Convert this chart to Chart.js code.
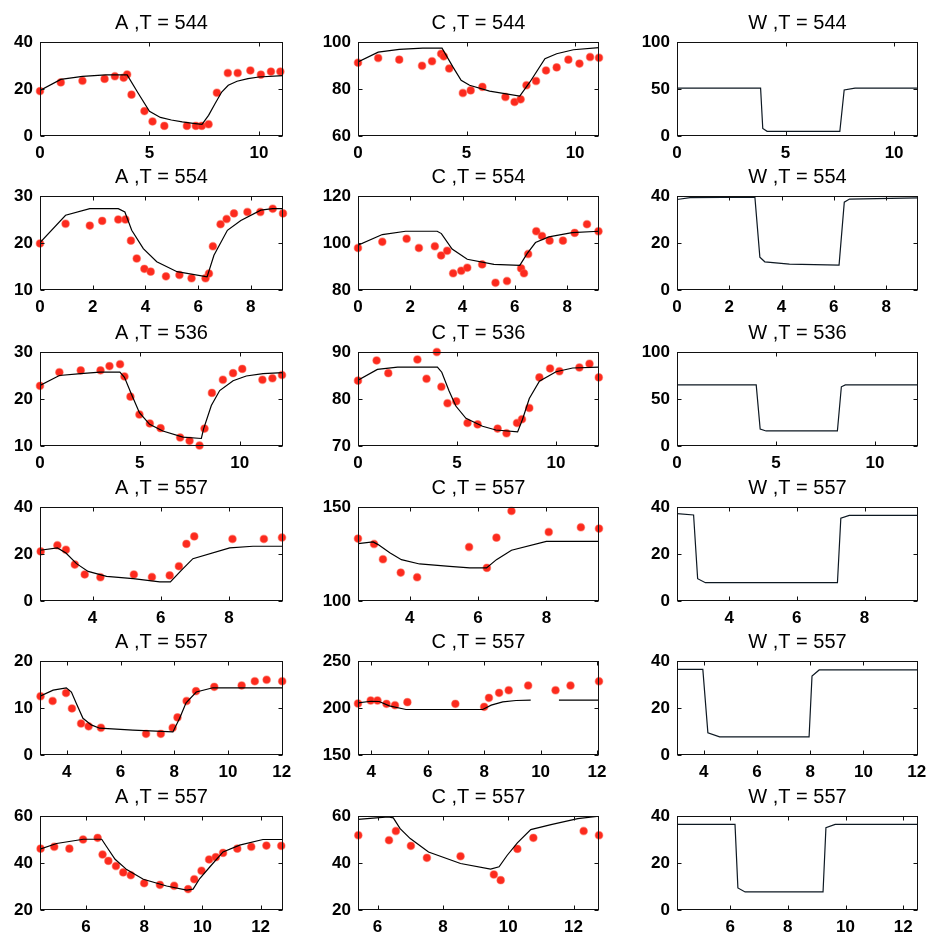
<!DOCTYPE html>
<html><head><meta charset="utf-8">
<script src="https://cdn.jsdelivr.net/npm/chart.js@4.4.1/dist/chart.umd.min.js"></script>
<style>
html,body{margin:0;padding:0;background:#fff;width:928px;height:936px;overflow:hidden;}
canvas{position:absolute;}
</style></head><body>
<script>
// ---------- Titles ----------
const titlesA = ["A ,T = 544","A ,T = 554","A ,T = 536","A ,T = 557","A ,T = 557","A ,T = 557"];
const titlesC = ["C ,T = 544","C ,T = 554","C ,T = 536","C ,T = 557","C ,T = 557","C ,T = 557"];
const titlesW = ["W ,T = 544","W ,T = 554","W ,T = 536","W ,T = 557","W ,T = 557","W ,T = 557"];

// ---------- Row 1 (T = 544) ----------
const xRange1 = [0, 11.1];
const xTicks1 = [0, 5, 10];
const yTicksA1 = [0, 20, 40], yTicksC1 = [60, 80, 100], yTicksW1 = [0, 50, 100];
const obsXA1 = [0,0.95,1.94,2.95,3.42,3.82,3.98,4.18,4.77,5.14,5.68,6.71,7.12,7.39,7.70,8.08,8.58,9.03,9.61,10.09,10.55,10.98];
const obsYA1 = [19.1,22.8,23.5,24.3,25.4,24.8,26.2,17.6,10.6,6.2,4.3,4.3,4.3,4.3,5.0,18.4,26.8,26.8,27.9,26.1,27.4,27.4];
const fitXA1 = [0,0.95,1.94,3.0,3.98,4.5,5.0,5.5,6.0,6.5,7.0,7.4,7.7,8.0,8.3,8.6,9.0,9.5,10.0,11.1];
const fitYA1 = [19.4,24.1,25.4,26.0,26.0,18.0,10.5,7.9,6.8,6.0,5.4,5.0,8.8,13.8,18.7,21.6,23.3,24.4,25.1,25.7];
const obsXC1 = [0,0.93,1.9,2.95,3.41,3.83,3.95,4.2,4.83,5.19,5.73,6.79,7.21,7.49,7.76,8.2,8.66,9.15,9.69,10.2,10.69,11.1];
const obsYC1 = [91.2,93.2,92.5,89.9,91.8,95.0,93.9,88.7,78.3,79.4,80.9,76.6,74.5,75.6,81.6,83.4,87.9,89.2,92.5,90.8,93.6,93.3];
const fitXC1 = [0,0.93,1.9,2.98,3.87,4.37,4.75,5.14,6.06,7.45,7.92,8.61,9.15,9.92,11.1];
const fitYC1 = [91.5,95.7,96.9,97.4,97.4,89.4,83.7,81.6,79.1,77.0,83.0,92.9,95.0,96.7,97.6];
const fitXW1 = [0,3.85,3.95,4.15,7.5,7.7,8.2,11.1];
const fitYW1 = [51,51,8,5,5,49,51,51];

// ---------- Row 2 (T = 554) ----------
const xRange2 = [0, 9.22];
const xTicks2 = [0, 2, 4, 6, 8];
const yTicksA2 = [10, 20, 30], yTicksC2 = [80, 100, 120], yTicksW2 = [0, 20, 40];
const obsXA2 = [0,0.97,1.89,2.36,2.97,3.24,3.45,3.67,3.96,4.2,4.78,5.29,5.75,6.28,6.41,6.56,6.85,7.08,7.36,7.87,8.36,8.83,9.22];
const obsYA2 = [19.9,24.1,23.7,24.7,25.0,25.0,20.5,16.7,14.5,13.9,12.9,13.2,12.5,12.5,13.5,19.3,24.0,25.1,26.3,26.6,26.6,27.3,26.3];
const fitXA2 = [0,0.97,1.89,2.97,3.22,3.48,3.92,4.43,5.2,6.34,6.6,7.11,7.62,8.38,8.83,9.22];
const fitYA2 = [20.1,25.9,27.3,27.3,26.6,22.7,18.8,16.0,13.9,12.8,17.4,22.7,24.8,27.0,27.3,27.3];
const obsXC2 = [0,0.93,1.86,2.33,2.94,3.18,3.41,3.64,3.95,4.18,4.75,5.26,5.7,6.24,6.35,6.51,6.82,7.04,7.33,7.84,8.29,8.76,9.2];
const obsYC2 = [97.9,100.5,101.8,97.9,98.6,94.7,96.7,87.1,88.2,89.5,90.9,83.1,83.8,89.2,87.1,95.3,105.0,103.0,101.0,101.0,104.3,108.0,105.0];
const fitXC2 = [0,0.93,1.82,3.03,3.19,3.6,4.18,5.2,6.19,6.47,6.79,7.3,8.19,9.22];
const fitYC2 = [99.1,103.6,105.0,105.0,104.0,97.4,93.1,90.9,90.5,95.5,100.2,102.6,104.4,105.0];
const fitXW2 = [0,0.5,2.98,3.17,3.36,4.3,6.2,6.4,6.6,9.22];
const fitYW2 = [38.5,39.3,39.5,14,12,11,10.6,37.4,38.7,39.2];

// ---------- Row 3 (T = 536) ----------
const xRange3 = [0, 12.17];
const xTicks3 = [0, 5, 10];
const yTicksA3 = [10, 20, 30], yTicksC3 = [70, 80, 90], yTicksW3 = [0, 50, 100];
const obsXA3 = [0,0.97,2.04,3.03,3.48,4.01,4.23,4.53,4.98,5.5,6.04,7.02,7.49,7.99,8.24,8.61,9.16,9.67,10.13,11.14,11.64,12.12];
const obsYA3 = [22.8,25.7,26.1,26.1,27.0,27.4,24.8,20.5,16.7,14.8,13.8,11.8,11.1,10.1,13.7,21.3,24.1,25.5,26.4,24.1,24.4,25.1];
const fitXA3 = [0,0.97,2.04,3.0,4.0,4.23,4.57,4.98,5.49,6.15,7.16,8.08,8.19,8.58,9.0,9.67,10.33,11.17,12.17];
const fitYA3 = [22.9,25.0,25.4,25.7,25.7,24.6,21.1,17.1,14.6,13.2,11.9,11.6,13.6,18.6,21.8,23.9,24.9,25.4,25.6];
const obsXC3 = [0,0.94,1.53,3.0,3.46,3.98,4.21,4.52,4.96,5.53,6.04,7.05,7.5,8.03,8.28,8.65,9.16,9.7,10.17,11.18,11.69,12.16];
const obsYC3 = [83.9,88.2,85.5,88.4,84.3,90.0,82.6,79.1,79.5,74.9,74.6,73.7,72.7,74.9,75.7,78.1,84.6,86.5,85.9,86.7,87.5,84.6];
const fitXC3 = [0,0.98,2.0,4.01,4.23,4.6,4.94,5.45,6.29,6.96,8.06,8.31,8.65,9.16,10.0,10.84,12.17];
const fitYC3 = [84.0,86.3,86.8,86.8,85.7,81.7,78.5,75.9,74.2,73.4,73.0,75.7,80.1,83.8,85.8,86.6,86.8];
const fitXW3 = [0,4.0,4.2,4.5,8.1,8.3,8.5,12.17];
const fitYW3 = [65,65,18,16,16,63,65,65];

// ---------- Row 4 (T = 557) ----------
const xRange4 = [2.46, 9.58], xRangeC4 = [2.49, 9.54];
const xTicks4 = [4, 6, 8];
const yTicksA4 = [0, 20, 40], yTicksC4 = [100, 150], yTicksW4 = [0, 20, 40];
const obsXA4 = [2.48,2.97,3.22,3.48,3.77,4.23,5.21,5.74,6.26,6.53,6.75,6.98,8.1,9.02,9.55];
const obsYA4 = [21.1,23.7,21.8,15.5,11.3,10.1,11.3,10.2,10.9,14.8,24.3,27.5,26.4,26.4,27.0];
const fitXA4 = [2.46,2.97,3.22,3.53,3.87,4.41,5.19,5.97,6.28,6.6,6.94,8.02,8.7,9.58];
const fitYA4 = [21.6,22.6,20.4,15.9,12.6,10.5,9.5,8.1,8.1,13.0,18.0,22.6,23.3,23.3];
const obsXC4 = [2.49,2.96,3.22,3.74,4.22,5.74,6.26,6.54,6.98,8.07,9.01,9.54];
const obsYC4 = [133.2,130.3,122.2,115.1,112.6,128.7,117.6,133.7,147.9,136.7,139.2,138.5];
const fitXC4 = [2.49,2.93,3.08,3.42,3.76,4.29,5.17,5.76,6.25,6.54,6.98,8.0,9.54];
const fitYC4 = [130.5,131.4,130.0,125.7,122.0,119.7,118.4,117.6,117.6,122.0,127.0,131.7,131.7];
const fitXW4 = [2.46,2.95,3.07,3.3,7.2,7.3,7.55,9.58];
const fitYW4 = [37.2,36.6,9.5,7.8,7.8,35.2,36.4,36.4];

// ---------- Row 5 (T = 557) ----------
const xRange5 = [3.0, 12.05], xRangeC5 = [3.53, 12.07];
const xTicks5 = [4, 6, 8, 10, 12];
const yTicksA5 = [0, 10, 20], yTicksC5 = [150, 200, 250], yTicksW5 = [0, 20, 40];
const obsXA5 = [3.02,3.47,3.97,4.19,4.53,4.81,5.27,6.95,7.5,7.94,8.12,8.46,8.81,9.49,10.51,11.0,11.44,12.02];
const obsYA5 = [12.5,11.5,13.2,9.9,6.7,6.1,5.8,4.5,4.5,5.8,8.0,11.5,13.6,14.5,14.8,15.7,16.0,15.7];
const fitXA5 = [3.0,3.49,3.98,4.17,4.35,4.6,4.91,5.22,6.46,7.95,8.2,8.44,8.82,9.44,12.05];
const fitYA5 = [12.5,13.8,14.3,13.4,11.0,7.8,6.4,5.7,5.3,4.9,7.8,11.1,13.4,14.3,14.3];
const obsXC5 = [3.53,3.98,4.22,4.54,4.84,5.28,6.98,8.0,8.17,8.53,8.87,9.56,10.53,11.06,12.07];
const obsYC5 = [204.8,208,208,204.4,203,206.2,204.4,201.2,210.8,216.1,218.9,223.9,218.9,223.9,228.4];
const fitXC5 = [3.53,3.99,4.28,4.64,5.23,7.95,8.25,8.66,9.13,9.65,10.1,10.65,12.07];
const fitYC5 = [205.5,207.2,206.9,202.3,198.4,198.4,203.0,206.5,208.0,208.3,null,208.3,208.3];
const fitXW5 = [3.0,3.97,4.16,4.6,7.96,8.07,8.34,12.05];
const fitYW5 = [36.4,36.4,9.4,7.7,7.7,33.6,36.2,36.2];

// ---------- Row 6 (T = 557) ----------
const xRange6 = [4.42, 12.77], xRangeC6 = [5.4, 12.78], xRangeW6 = [4.16, 12.51];
const xTicks6 = [6, 8, 10, 12];
const yTicksA6 = [20, 40, 60], yTicksC6 = [20, 40, 60], yTicksW6 = [0, 20, 40];
const obsXA6 = [4.44,4.91,5.43,5.9,6.4,6.57,6.77,7.03,7.28,7.54,8.0,8.54,9.03,9.51,9.72,9.97,10.23,10.46,10.71,11.2,11.68,12.2,12.71];
const obsYA6 = [46.1,46.9,46.1,50.0,50.7,43.6,40.9,38.7,36.0,34.8,31.4,30.7,30.3,28.9,33.1,36.7,41.5,42.5,44.3,46.1,46.9,47.4,47.3];
const fitXA6 = [4.42,4.99,5.91,6.54,6.71,7.0,7.4,7.97,8.77,9.46,9.68,9.91,10.26,10.71,11.28,12.08,12.77];
const fitYA6 = [45.9,48.3,50.1,50.1,46.9,41.6,37.2,33.1,30.2,28.5,28.9,33.4,38.4,44.7,47.6,50.0,50.0];
const obsXC6 = [5.41,6.35,6.56,7.02,7.51,8.54,9.56,9.77,10.28,10.77,12.31,12.78];
const obsYC6 = [51.8,49.7,53.6,47.3,42.2,42.9,35.1,32.7,46.0,50.7,53.6,51.8];
const fitXC6 = [5.4,6.33,6.48,6.69,7.0,7.56,8.54,9.46,9.72,9.97,10.28,10.69,11.31,12.13,12.78];
const fitYC6 = [58.6,59.6,59.2,54.6,50.4,44.7,39.8,37.4,38.4,43.3,48.6,54.2,56.3,58.9,59.9];
const fitXW6 = [4.16,6.17,6.27,6.52,9.22,9.32,9.64,12.51];
const fitYW6 = [36.4,36.4,9.4,7.7,7.7,35,36.4,36.4];

// ---------- Panel table (built from the arrays above) ----------
const panels = [
  {r:0,c:0,t:titlesA[0],xr:xRange1,xt:xTicks1,yt:yTicksA1,obs:[obsXA1,obsYA1],fit:[fitXA1,fitYA1]},
  {r:0,c:1,t:titlesC[0],xr:xRange1,xt:xTicks1,yt:yTicksC1,obs:[obsXC1,obsYC1],fit:[fitXC1,fitYC1]},
  {r:0,c:2,t:titlesW[0],xr:xRange1,xt:xTicks1,yt:yTicksW1,obs:null,fit:[fitXW1,fitYW1]},
  {r:1,c:0,t:titlesA[1],xr:xRange2,xt:xTicks2,yt:yTicksA2,obs:[obsXA2,obsYA2],fit:[fitXA2,fitYA2]},
  {r:1,c:1,t:titlesC[1],xr:xRange2,xt:xTicks2,yt:yTicksC2,obs:[obsXC2,obsYC2],fit:[fitXC2,fitYC2]},
  {r:1,c:2,t:titlesW[1],xr:xRange2,xt:xTicks2,yt:yTicksW2,obs:null,fit:[fitXW2,fitYW2]},
  {r:2,c:0,t:titlesA[2],xr:xRange3,xt:xTicks3,yt:yTicksA3,obs:[obsXA3,obsYA3],fit:[fitXA3,fitYA3]},
  {r:2,c:1,t:titlesC[2],xr:xRange3,xt:xTicks3,yt:yTicksC3,obs:[obsXC3,obsYC3],fit:[fitXC3,fitYC3]},
  {r:2,c:2,t:titlesW[2],xr:xRange3,xt:xTicks3,yt:yTicksW3,obs:null,fit:[fitXW3,fitYW3]},
  {r:3,c:0,t:titlesA[3],xr:xRange4,xt:xTicks4,yt:yTicksA4,obs:[obsXA4,obsYA4],fit:[fitXA4,fitYA4]},
  {r:3,c:1,t:titlesC[3],xr:xRangeC4,xt:xTicks4,yt:yTicksC4,obs:[obsXC4,obsYC4],fit:[fitXC4,fitYC4]},
  {r:3,c:2,t:titlesW[3],xr:xRange4,xt:xTicks4,yt:yTicksW4,obs:null,fit:[fitXW4,fitYW4]},
  {r:4,c:0,t:titlesA[4],xr:xRange5,xt:xTicks5,yt:yTicksA5,obs:[obsXA5,obsYA5],fit:[fitXA5,fitYA5]},
  {r:4,c:1,t:titlesC[4],xr:xRangeC5,xt:xTicks5,yt:yTicksC5,obs:[obsXC5,obsYC5],fit:[fitXC5,fitYC5]},
  {r:4,c:2,t:titlesW[4],xr:xRange5,xt:xTicks5,yt:yTicksW5,obs:null,fit:[fitXW5,fitYW5]},
  {r:5,c:0,t:titlesA[5],xr:xRange6,xt:xTicks6,yt:yTicksA6,obs:[obsXA6,obsYA6],fit:[fitXA6,fitYA6]},
  {r:5,c:1,t:titlesC[5],xr:xRangeC6,xt:xTicks6,yt:yTicksC6,obs:[obsXC6,obsYC6],fit:[fitXC6,fitYC6]},
  {r:5,c:2,t:titlesW[5],xr:xRangeW6,xt:xTicks6,yt:yTicksW6,obs:null,fit:[fitXW6,fitYW6]}
];

// ---------- Layout ----------
const FONT = "'Liberation Sans', Arial, Helvetica, sans-serif";
const colLeft = [40, 358, 677], colWidth = [243, 241, 241];
const rowTop = [42, 196, 352, 507, 661, 816], PLOT_H = 94;
const Y_AXIS_W = 40, TITLE_H = 40, X_AXIS_H = 22, PAD_R = 10;

const boxPlugin = {
  id: 'matlabBox',
  afterDraw(chart) {
    const {ctx, chartArea: a, scales: {x, y}} = chart;
    ctx.save();
    ctx.strokeStyle = '#111';
    ctx.lineWidth = 1;
    const L = Math.round(a.left) + 0.5, T = Math.round(a.top) + 0.5;
    const R = Math.round(a.right) - 0.5, B = Math.round(a.bottom) - 0.5;
    ctx.strokeRect(L, T, R - L, B - T);
    const len = 4;
    ctx.beginPath();
    x.ticks.forEach(t => {
      const px = Math.round(x.getPixelForValue(t.value)) + 0.5;
      ctx.moveTo(px, T); ctx.lineTo(px, T + len);
      ctx.moveTo(px, B); ctx.lineTo(px, B - len);
    });
    y.ticks.forEach(t => {
      const py = Math.round(y.getPixelForValue(t.value)) + 0.5;
      ctx.moveTo(L, py); ctx.lineTo(L + len, py);
      ctx.moveTo(R, py); ctx.lineTo(R - len, py);
    });
    ctx.stroke();
    ctx.restore();
  }
};

const pts = (xs, ys) => xs.map((x, i) => ({x: x, y: ys[i]}));
const tickFont = {family: FONT, size: 17, weight: 'bold'};

panels.forEach(p => {
  const cv = document.createElement('canvas');
  const w = Y_AXIS_W + colWidth[p.c] + PAD_R;
  const h = TITLE_H + PLOT_H + X_AXIS_H;
  cv.width = w; cv.height = h;
  cv.style.width = w + 'px'; cv.style.height = h + 'px';
  cv.style.left = (colLeft[p.c] - Y_AXIS_W) + 'px';
  cv.style.top = (rowTop[p.r] - TITLE_H) + 'px';
  document.body.appendChild(cv);

  const datasets = [{
    data: pts(p.fit[0], p.fit[1]),
    showLine: true, pointRadius: 0, pointHoverRadius: 0,
    borderColor: p.c === 2 ? '#0d1822' : '#000', borderWidth: 1.2,
    tension: 0, spanGaps: false, order: 0
  }];
  if (p.obs) {
    datasets.push({
      data: pts(p.obs[0], p.obs[1]),
      showLine: false, pointRadius: 3.8, pointHoverRadius: 3.8,
      backgroundColor: 'rgb(252,42,30)', borderColor: 'rgba(255,95,75,0.45)', borderWidth: 1.3,
      clip: false, order: 1
    });
  }

  new Chart(cv, {
    type: 'scatter',
    data: {datasets},
    options: {
      responsive: false, animation: false, devicePixelRatio: 1,
      layout: {padding: {top: 0, left: 0, right: PAD_R, bottom: 0}},
      plugins: {
        legend: {display: false}, tooltip: {enabled: false},
        title: {display: true, fullSize: false, text: p.t, color: '#000',
          font: {family: FONT, size: 20, weight: 'normal', lineHeight: 1.2},
          padding: {top: 9, bottom: 7}}
      },
      scales: {
        x: {
          type: 'linear', min: p.xr[0], max: p.xr[1],
          afterBuildTicks: s => { s.ticks = p.xt.map(v => ({value: v})); },
          afterFit: s => { s.height = X_AXIS_H; s.paddingLeft = 0; s.paddingRight = 0; },
          grid: {display: false, drawTicks: false}, border: {display: false},
          ticks: {padding: 7, maxRotation: 0, autoSkip: false, color: '#000', font: tickFont, callback: v => String(v)}
        },
        y: {
          type: 'linear', min: p.yt[0], max: p.yt[p.yt.length - 1],
          afterBuildTicks: s => { s.ticks = p.yt.map(v => ({value: v})); },
          afterFit: s => { s.width = Y_AXIS_W; s.paddingTop = 0; s.paddingBottom = 0; },
          grid: {display: false, drawTicks: false}, border: {display: false},
          ticks: {padding: 7, autoSkip: false, color: '#000', font: tickFont, callback: v => String(v)}
        }
      }
    },
    plugins: [boxPlugin]
  });
});
</script>
</body></html>
